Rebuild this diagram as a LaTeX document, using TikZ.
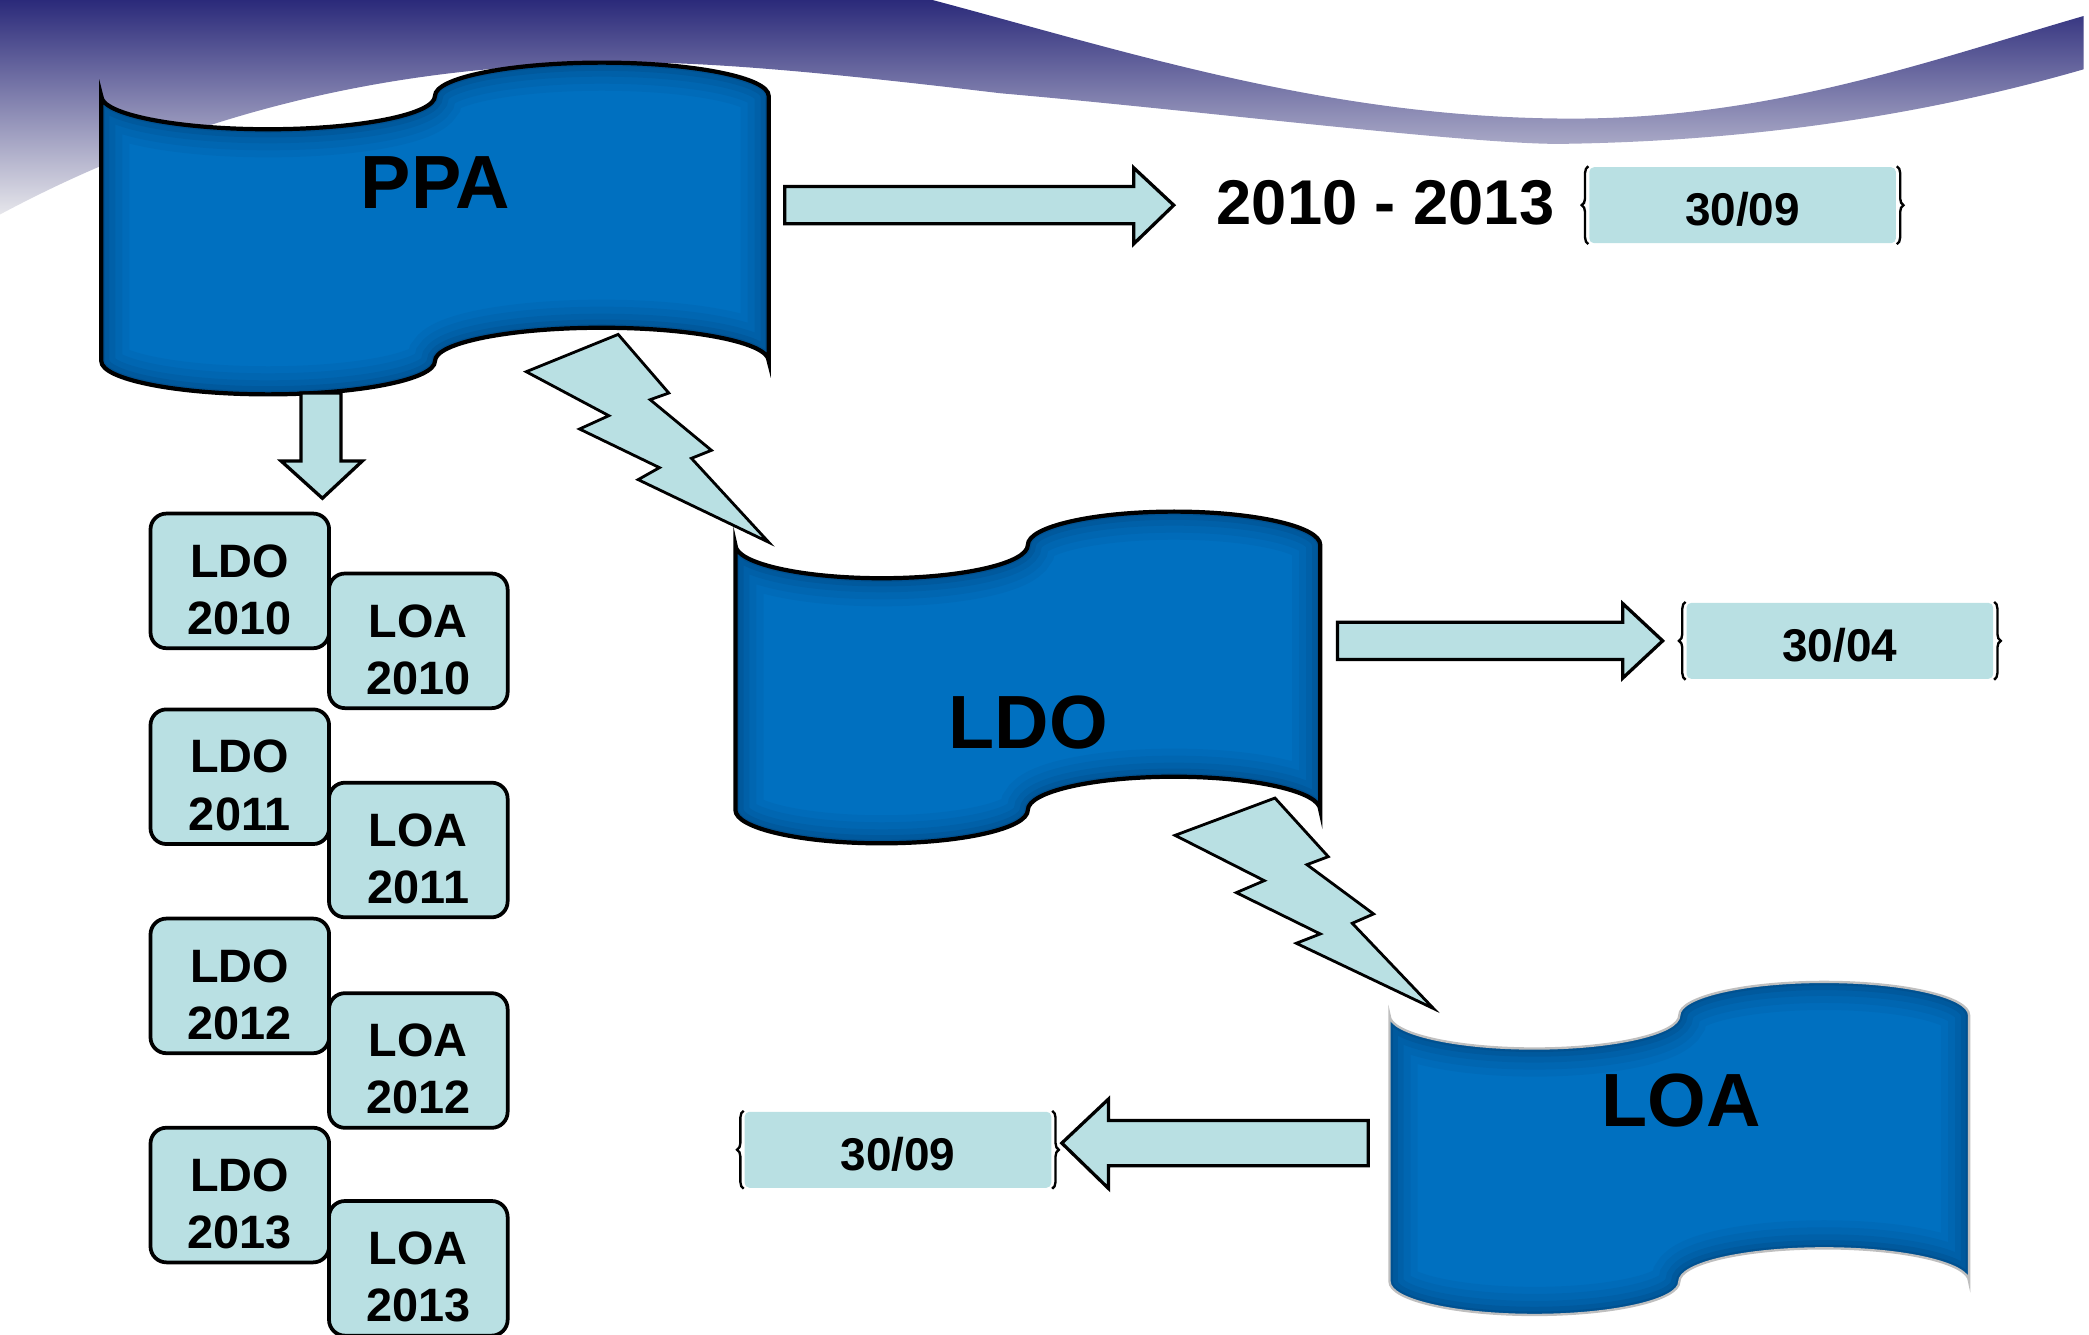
\documentclass[tikz,border=0pt]{standalone}
\usepackage{fontspec}
\setmainfont{Liberation Sans}
\usetikzlibrary{decorations.pathreplacing}

\definecolor{tapeblue}{HTML}{0070C0}
\definecolor{tapeshade}{HTML}{00284F}
\definecolor{boxcyan}{HTML}{B9E0E3}
\definecolor{bandnavy}{HTML}{2B2A7A}
\definecolor{bandgrey}{HTML}{E6E6EB}

% wavy banner outline: x, top y, width, height, wave depth
\newcommand\tapepath[5]{%
  (#1,#2) .. controls (#1,{#2+.55*#5}) and ({#1+.1125*#3},{#2+#5}) .. ({#1+.25*#3},{#2+#5})
  .. controls ({#1+.3875*#3},{#2+#5}) and ({#1+.5*#3},{#2+.55*#5}) .. ({#1+.5*#3},#2)
  .. controls ({#1+.5*#3},{#2-.55*#5}) and ({#1+.6125*#3},{#2-#5}) .. ({#1+.75*#3},{#2-#5})
  .. controls ({#1+.8875*#3},{#2-#5}) and ({#1+#3},{#2-.55*#5}) .. ({#1+#3},#2)
  -- ({#1+#3},{#2+#4})
  .. controls ({#1+#3},{#2+#4-.55*#5}) and ({#1+.8875*#3},{#2+#4-#5}) .. ({#1+.75*#3},{#2+#4-#5})
  .. controls ({#1+.6125*#3},{#2+#4-#5}) and ({#1+.5*#3},{#2+#4-.55*#5}) .. ({#1+.5*#3},{#2+#4})
  .. controls ({#1+.5*#3},{#2+#4+.55*#5}) and ({#1+.3875*#3},{#2+#4+#5}) .. ({#1+.25*#3},{#2+#4+#5})
  .. controls ({#1+.1125*#3},{#2+#4+#5}) and (#1,{#2+#4+.55*#5}) .. (#1,{#2+#4})
  -- cycle}

% filled banner with inner shadow; last argument = outline colour
\newcommand\tape[6]{%
  \fill[tapeblue] \tapepath{#1}{#2}{#3}{#4}{#5};
  \begin{scope}
    \clip \tapepath{#1}{#2}{#3}{#4}{#5};
    \draw[tapeshade, opacity=.06, line width=12pt] \tapepath{#1}{#2}{#3}{#4}{#5};
    \draw[tapeshade, opacity=.07, line width=9pt] \tapepath{#1}{#2}{#3}{#4}{#5};
    \draw[tapeshade, opacity=.09, line width=6pt] \tapepath{#1}{#2}{#3}{#4}{#5};
    \draw[tapeshade, opacity=.12, line width=3.5pt] \tapepath{#1}{#2}{#3}{#4}{#5};
    \draw[tapeshade, opacity=.15, line width=1.5pt] \tapepath{#1}{#2}{#3}{#4}{#5};
  \end{scope}
  \draw[#6] \tapepath{#1}{#2}{#3}{#4}{#5};
}

\begin{document}
\begin{tikzpicture}
[x=0.01cm, y=-0.01cm,
tapetext/.style={font=\fontsize{16.1pt}{19pt}\selectfont\bfseries},
blockarrow/.style={fill=boxcyan, draw=black, line width=.7pt, line join=miter},
bolt/.style={fill=boxcyan, draw=black, line width=.6pt, line join=miter},
yearbox/.style={draw=black, line width=.8pt, fill=boxcyan, rounded corners=3.4pt,
  minimum width=1.34cm, minimum height=1.01cm, inner sep=0pt, align=center,
  text height=22.8pt, text depth=0pt,
  font=\fontsize{10pt}{12.2pt}\selectfont\bfseries},
datebox/.style={fill=boxcyan, rounded corners=1pt, minimum width=2.3cm, minimum height=.57cm,
  inner sep=0pt, text height=8.8pt, text depth=0pt,
  font=\fontsize{9.8pt}{12pt}\selectfont\bfseries},
datebrace/.style={draw=black, line width=.5pt, decorate, decoration={brace, amplitude=.5mm}}]

\useasboundingbox (0,0) rectangle (1568,1002);

% header band
\shade[top color=bandnavy, bottom color=bandgrey] (0,0) -- (700,0)
  .. controls (850,40) and (1000,89) .. (1180,89)
  .. controls (1330,89) and (1450,45) .. (1564,12) -- (1564,52)
  .. controls (1460,82) and (1330,106) .. (1170,108)
  .. controls (1100,108) and (900,83) .. (751,70)
  .. controls (650,58) and (540,46) .. (470,47)
  .. controls (330,48) and (170,70) .. (0,161) -- cycle;

% banners
\tape{76}{72}{501}{199}{25}{black, line width=.9pt}
\tape{552}{409}{439}{199}{25}{black, line width=.9pt}
\tape{1043}{762}{435}{200}{25}{black!25, line width=.5pt}

\node[tapetext] (ppa) at (327,137) {PPA};
\node[tapetext] (ldo) at (772,542) {LDO};
\node[tapetext] (loa) at (1262,826) {LOA};

% block arrows
\draw[blockarrow] (589,140) -- (851,140) -- (851,126) -- (881,154) -- (851,183) -- (851,168) -- (589,168) -- cycle;
\draw[blockarrow] (226,295) -- (256,295) -- (256,346) -- (272,346) -- (242,374) -- (211,346) -- (226,346) -- cycle;
\draw[blockarrow] (1004,467) -- (1218,467) -- (1218,453) -- (1248,481) -- (1218,509) -- (1218,495) -- (1004,495) -- cycle;
\draw[blockarrow] (1027,841) -- (832,841) -- (832,825) -- (797,858) -- (832,892) -- (832,875) -- (1027,875) -- cycle;

% lightning bolts
\draw[bolt] (464,251) -- (502,295) -- (488,300) -- (534,338) -- (519,344) -- (577,407)
  -- (479,360) -- (495,351) -- (435,322) -- (457,312) -- (395,279) -- cycle;
\draw[bolt] (957,599) -- (997,643) -- (981,649) -- (1031,686) -- (1015,693) -- (1076,757)
  -- (973,708) -- (991,701) -- (928,670) -- (949,661) -- (882,627) -- cycle;

\node[font=\fontsize{13.5pt}{16pt}\selectfont\bfseries] (span) at (1040,152) {2010 - 2013};

% dates
\node[datebox] (d1) at (1308,154) {30/09};
\node[datebox] (d2) at (1381,481) {30/04};
\node[datebox] (d3) at (674,863) {30/09};
\draw[datebrace] (d1.south west) -- (d1.north west);
\draw[datebrace] (d1.north east) -- (d1.south east);
\draw[datebrace] (d2.south west) -- (d2.north west);
\draw[datebrace] (d2.north east) -- (d2.south east);
\draw[datebrace] (d3.south west) -- (d3.north west);
\draw[datebrace] (d3.north east) -- (d3.south east);

% yearly laws
\node[yearbox] (ldo10) at (180,436) {LDO\\2010};
\node[yearbox] (loa10) at (314,481) {LOA\\2010};
\node[yearbox] (ldo11) at (180,583) {LDO\\2011};
\node[yearbox] (loa11) at (314,638) {LOA\\2011};
\node[yearbox] (ldo12) at (180,740) {LDO\\2012};
\node[yearbox] (loa12) at (314,796) {LOA\\2012};
\node[yearbox] (ldo13) at (180,897) {LDO\\2013};
\node[yearbox] (loa13) at (314,952) {LOA\\2013};
\end{tikzpicture}
\end{document}
